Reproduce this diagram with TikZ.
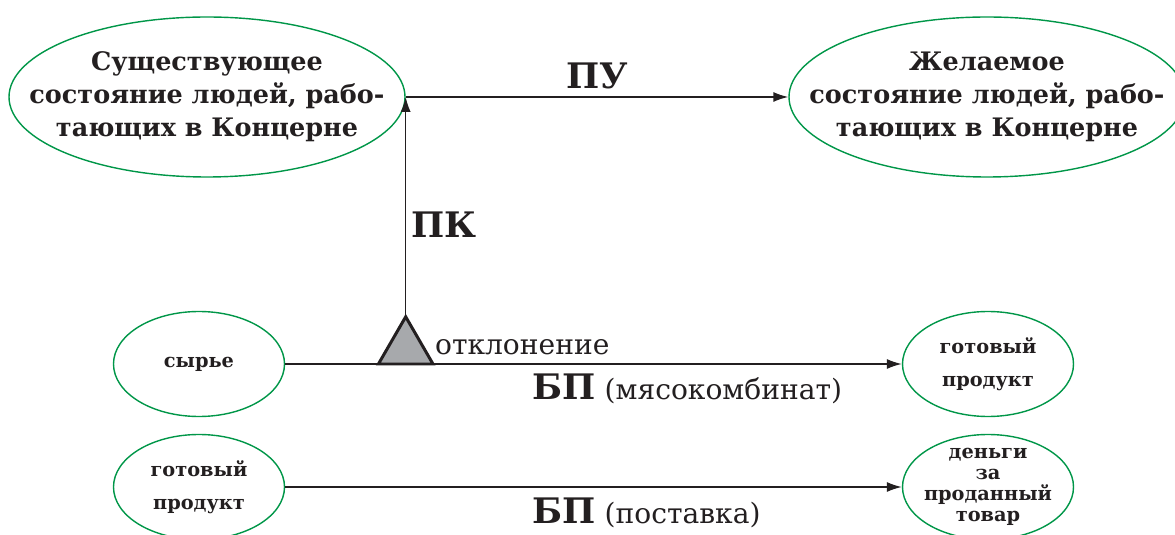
\documentclass[tikz,border=0pt]{standalone}
\usepackage{fontspec}
\setmainfont{DejaVu Serif}
\usetikzlibrary{shapes.geometric,arrows.meta,positioning}
\definecolor{ovalgreen}{RGB}{0,150,72}
\definecolor{ink}{RGB}{35,31,32}
\definecolor{devgray}{RGB}{167,169,172}
\newcommand{\bpsign}{{\fontsize{20}{24}\selectfont\bfseries БП}}

\begin{document}
\begin{tikzpicture}[
    state/.style={ellipse, draw=ovalgreen, line width=0.8pt, inner xsep=-0.8cm, inner ysep=0pt,
      minimum width=7.92cm, minimum height=3.2cm, align=center, text=ink,
      font=\fontsize{14.5}{18.8}\selectfont\bfseries},
    thing/.style={ellipse, draw=ovalgreen, line width=0.8pt, inner sep=-0.3cm,
      minimum width=3.42cm, minimum height=2.1cm, align=center, text=ink,
      font=\fontsize{11}{18.5}\selectfont\bfseries},
    arr/.style={-{Latex[length=3mm,width=2mm]}, line width=0.8pt, draw=ink},
    big/.style={font=\fontsize{20}{24}\selectfont\bfseries, text=ink, inner sep=1pt},
    note/.style={font=\fontsize{16}{18}\selectfont, text=ink, inner sep=0pt},
    bp/.style={note, pos=0.4, anchor=base west, yshift=-7.2mm},
    devbox/.style={regular polygon, regular polygon sides=3, draw=ink, fill=devgray,
      line width=1.7pt, minimum size=1.26cm, inner sep=0pt, outer sep=0pt},
  ]
\useasboundingbox (0,0) rectangle (23.5,10.68);

\node[state] (cur) at (4.14,8.74) {Существующее\\состояние людей, рабо-\\тающих в Концерне};
\node[state] (goal) at (19.74,8.74) {Желаемое\\состояние людей, рабо-\\тающих в Концерне};

\node[thing] (raw) at (3.98,3.4) {сырье};
\node[thing] (prod) at (19.76,3.4) {готовый\\продукт};
\node[thing] (ready) at (3.98,0.94) {готовый\\продукт};
\node[thing, font=\fontsize{11}{12}\selectfont\bfseries] (money) at (19.76,0.94) {деньги\\за\\проданный\\товар};

\draw[arr] (cur.east) -- node[big, above=3pt] {ПУ} (goal.west);
\draw[arr] (raw.east) -- node[bp] {\bpsign{} (мясокомбинат)} (prod.west);
\draw[arr] (ready.east) -- node[bp] {\bpsign{} (поставка)} (money.west);

\node[devbox, anchor=south] (dev) at (cur.east |- raw.east) {};
\node[note, anchor=base west, xshift=1pt, yshift=1.8mm] at (dev.corner 3) {отклонение};
\draw[arr] (dev.north) -- node[big, right=2pt, pos=0.42] {ПК} (cur.east);
\end{tikzpicture}
\end{document}
